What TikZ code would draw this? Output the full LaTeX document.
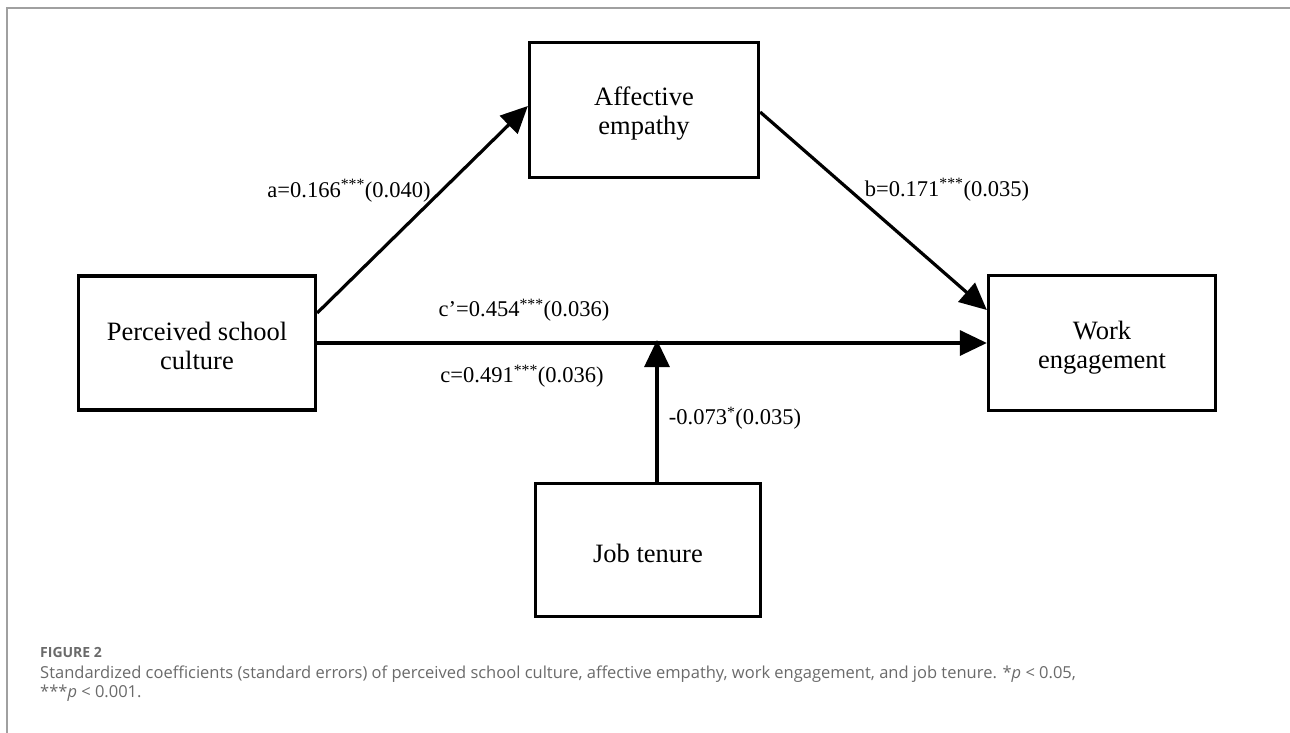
\documentclass[tikz,border=0pt]{standalone}
\usepackage{fontspec}
\setmainfont{Liberation Serif}
\newfontfamily\capfont{Open Sans}
\usetikzlibrary{arrows.meta}
\definecolor{framegray}{HTML}{A0A0A0}
\definecolor{capgray}{HTML}{6A6A6A}
\begin{document}
\begin{tikzpicture}[x=1pt,y=-1pt,
  box/.style={draw, line width=3.3pt, inner sep=0pt},
  boxtext/.style={align=center, inner sep=0pt, font=\fontsize{26.5}{29}\selectfont},
  arr/.style={line width=3.2pt, -{Triangle[length=27pt,width=25pt]}},
  lbl/.style={inner sep=0pt, font=\fontsize{22.5}{26}\selectfont},
  captxt/.style={anchor=base west, inner sep=0pt, text=capgray, font=\capfont\fontsize{16.5}{18.5}\selectfont}]
\useasboundingbox (0,0) rectangle (1290,733);
% frame
\draw[framegray, line width=1.5pt] (7,733) -- (7,8) -- (1290,8);
% boxes
\node[box, minimum width=237pt, minimum height=134pt] (psc) at (197,343) {};
\node[boxtext] (psct) at (197,346) {Perceived school\\culture};
\node[box, minimum width=229pt, minimum height=135pt] (ae) at (644,110) {};
\node[boxtext] (aet) at (644,114) {Affective\\empathy};
\node[box, minimum width=227pt, minimum height=135pt] (we) at (1102,343) {};
\node[boxtext] (wet) at (1102,348) {Work\\engagement};
\node[box, minimum width=225pt, minimum height=133pt] (jt) at (648,550) {};
\node[boxtext] (jtt) at (648,553) {Job tenure};
\coordinate (m) at (657,340);
% connectors
\draw[arr] ([yshift=30pt]psc.east) -- ([yshift=4pt]ae.west);
\draw[arr] ([yshift=-2pt]ae.east) -- ([yshift=33pt]we.west);
\draw[arr] (psc.east) -- (we.west);
\draw[arr] ([xshift=9pt]jt.north) -- (m);
% labels
\node[lbl] (la) at (349,191) {a=0.166\textsuperscript{***}(0.040)};
\node[lbl] (lb) at (947,190) {b=0.171\textsuperscript{***}(0.035)};
\node[lbl] (lcp) at (524,310) {c’=0.454\textsuperscript{***}(0.036)};
\node[lbl] (lc) at (522,376) {c=0.491\textsuperscript{***}(0.036)};
\node[lbl] (lj) at (735,418) {-0.073\textsuperscript{*}(0.035)};
% caption
\node[anchor=base west, inner sep=0pt, text=capgray, font=\capfont\bfseries\fontsize{14}{16}\selectfont] (fig) at (40,657) {FIGURE 2};
\node[captxt] (cap1) at (40,678) {Standardized coefficients (standard errors) of perceived school culture, affective empathy, work engagement, and job tenure. *\textit{p} \textless{} 0.05,};
\node[captxt] (cap2) at (40,697) {***\textit{p} \textless{} 0.001.};
\end{tikzpicture}
\end{document}
